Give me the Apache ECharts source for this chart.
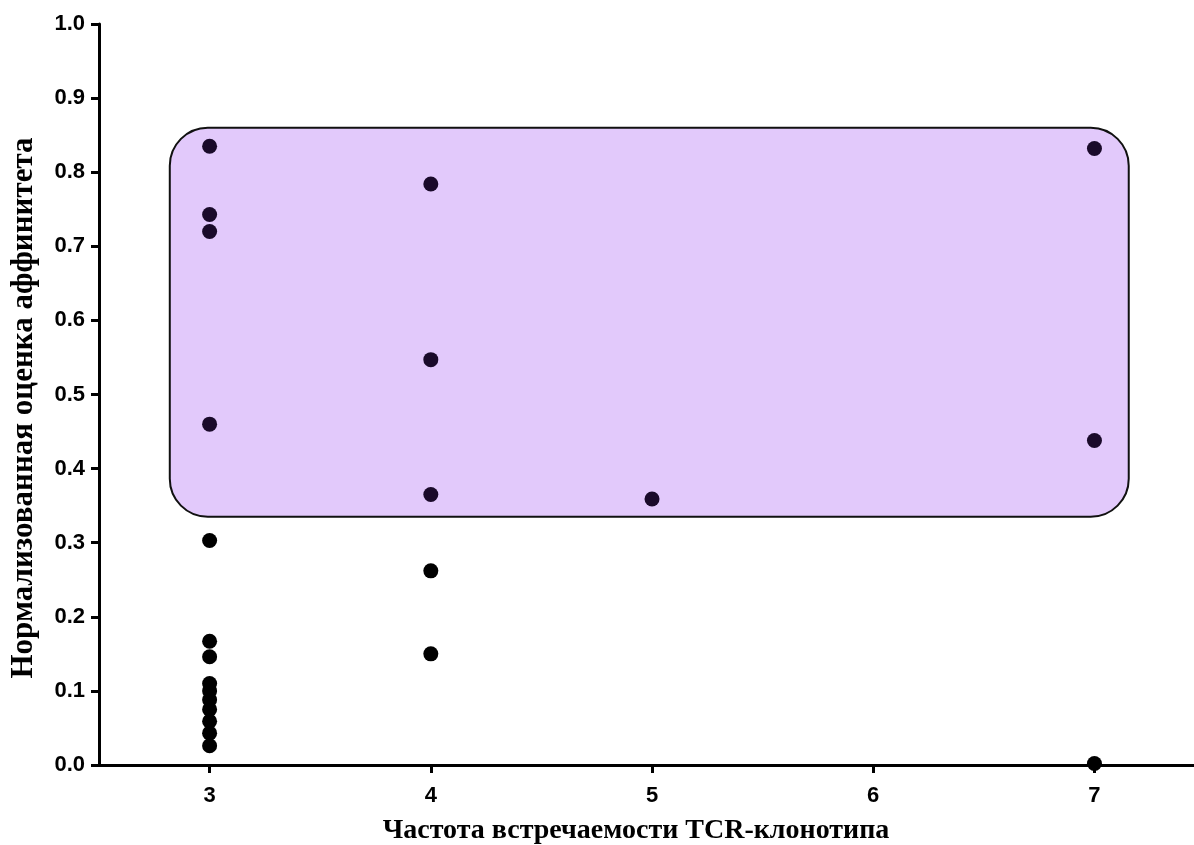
<!DOCTYPE html>
<html>
<head>
<meta charset="utf-8">
<script src="https://cdn.jsdelivr.net/npm/echarts@6/dist/echarts.min.js"></script>
<style>
  html, body { margin: 0; padding: 0; background: #fff; }
  #main { width: 1194px; height: 845px; }
</style>
</head>
<body>
<div id="main"></div>
<script>
// clonotype frequency -> normalized affinity scores
var freq3 = [0.835, 0.743, 0.720, 0.460, 0.303, 0.167, 0.146, 0.110, 0.100, 0.088, 0.075, 0.059, 0.043, 0.026];
var freq4 = [0.784, 0.547, 0.365, 0.262, 0.150];
var freq5 = [0.359];
var freq7 = [0.832, 0.438, 0.002];

var xTicks = [3, 4, 5, 6, 7];

// highlighted region (data units)
var boxX = [2.82, 7.155];
var boxY = [0.335, 0.86];

var points = [];
freq3.forEach(function (v) { points.push([3, v]); });
freq4.forEach(function (v) { points.push([4, v]); });
freq5.forEach(function (v) { points.push([5, v]); });
freq7.forEach(function (v) { points.push([7, v]); });

var chart = echarts.init(document.getElementById('main'));

var option = {
  animation: false,
  grid: { left: 99, right: 0, top: 24, bottom: 80 },
  xAxis: {
    type: 'value',
    min: 2.5,
    max: 7.45,
    splitLine: { show: false },
    axisLine: { lineStyle: { color: '#000', width: 3 } },
    axisTick: { customValues: xTicks, length: 8, lineStyle: { color: '#000', width: 3 } },
    axisLabel: {
      customValues: xTicks,
      margin: 20,
      color: '#000',
      fontSize: 22,
      fontWeight: 'bold',
      fontFamily: 'Liberation Sans, Arial, sans-serif'
    }
  },
  yAxis: {
    type: 'value',
    min: 0,
    max: 1,
    interval: 0.1,
    splitLine: { show: false },
    axisLine: { show: true, lineStyle: { color: '#000', width: 3 } },
    axisTick: { show: true, length: 8, lineStyle: { color: '#000', width: 3 } },
    axisLabel: {
      margin: 14,
      color: '#000',
      fontSize: 22,
      fontWeight: 'bold',
      fontFamily: 'Liberation Sans, Arial, sans-serif',
      formatter: function (v) { return v.toFixed(1); }
    }
  },
  graphic: [
    {
      type: 'text',
      x: 636, y: 831,
      style: {
        text: 'Частота встречаемости TCR-клонотипа',
        fill: '#000',
        font: 'bold 28px "Liberation Serif", "Times New Roman", serif',
        align: 'center',
        verticalAlign: 'middle'
      }
    },
    {
      type: 'text',
      x: 24, y: 408,
      rotation: Math.PI / 2,
      style: {
        text: 'Нормализованная оценка аффинитета',
        fill: '#000',
        font: 'bold 31px "Liberation Serif", "Times New Roman", serif',
        align: 'center',
        verticalAlign: 'middle'
      }
    }
  ],
  series: [
    {
      type: 'custom',
      silent: true,
      z: 1,
      clip: false,
      encode: { x: [0, 1], y: [2, 3] },
      data: [[boxX[0], boxX[1], boxY[0], boxY[1]]],
      renderItem: function (params, api) {
        var p0 = api.coord([api.value(0), api.value(3)]);
        var p1 = api.coord([api.value(1), api.value(2)]);
        return {
          type: 'rect',
          shape: { x: p0[0], y: p0[1], width: p1[0] - p0[0], height: p1[1] - p0[1], r: 38 },
          style: { fill: '#e2c9fb', stroke: '#111', lineWidth: 2 }
        };
      }
    },
    {
      type: 'scatter',
      z: 3,
      symbolSize: 15,
      clip: false,
      data: points,
      itemStyle: {
        opacity: 1,
        color: function (p) {
          var x = p.value[0], y = p.value[1];
          var inside = x > boxX[0] && x < boxX[1] && y > boxY[0] && y < boxY[1];
          return inside ? '#1a0a2a' : '#000';
        }
      }
    }
  ]
};

chart.setOption(option);
</script>
</body>
</html>
